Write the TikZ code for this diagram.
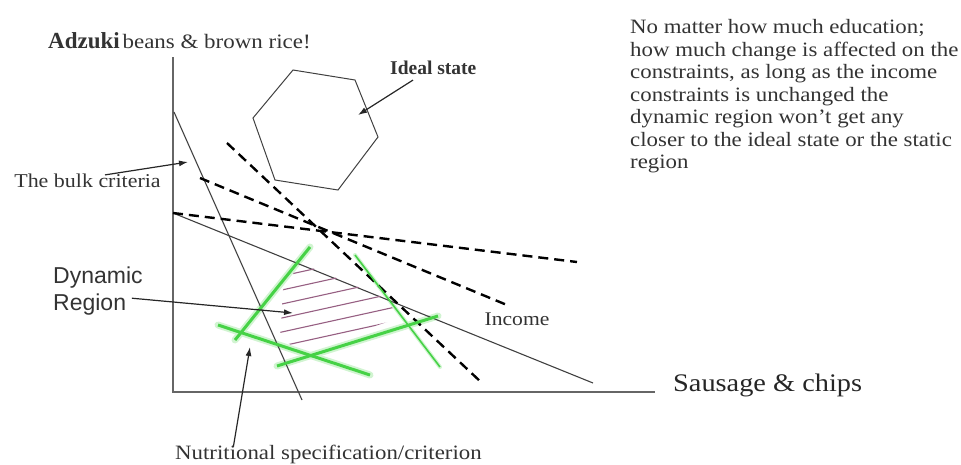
\documentclass[tikz,border=0pt]{standalone}
\usepackage{fontspec}
\setmainfont{Liberation Serif}[FakeStretch=1.12]
\newfontfamily\plainserif{Liberation Serif}
\newfontfamily\labelsans{Liberation Sans}
\usepackage{xcolor}
\usepackage{tikz}
\usetikzlibrary{arrows.meta, calc}

\definecolor{nutgreen}{RGB}{70,210,70}
\definecolor{hatchpink}{RGB}{150,95,130}

\begin{document}
\begin{tikzpicture}[x=1pt, y=-1pt,
  axis/.style={line width=2pt, black!60},
  limit/.style={line width=1.1pt, black!75},
  budget/.style={line width=2.4pt, black, dash pattern=on 10pt off 6pt},
  nutri/.style={line width=3pt, nutgreen},
  glow/.style={line width=7pt, nutgreen!25, line cap=round},
  pointer/.style={line width=1.2pt, black!85, -{Latex[length=9pt,width=6pt]}},
  txt/.style={inner sep=0pt, text=black!80}]
  \useasboundingbox (0,0) rectangle (961,464);

  % Axes
  \draw[axis] (173,57) -- (173,392) -- (655,392);

  % Ideal state (hexagon)
  \draw[limit, line width=1pt] (293,70) -- (355,80) -- (378,137) -- (338,190) -- (275,180) -- (253,118) -- cycle;

  % Nutritional specifications (soft halo first)
  \draw[glow] (310,247) -- (235,340);
  \draw[glow] (218,325) -- (370,375);
  \draw[glow] (277,366) -- (438,316);
  \draw[glow, line width=4pt] (355,255) -- (440,367);

  % Bulk criteria and income constraint
  \coordinate (B1) at (174,112);
  \coordinate (B2) at (302,400);
  \coordinate (I1) at (173,213);
  \coordinate (I2) at (593,383);
  \draw[limit] (B1) -- (B2);
  \draw[limit] (I1) -- (I2);

  % Shifted constraints
  \draw[budget] (227,143) -- (482,383);
  \draw[budget] (200,178) -- (507,305);
  \draw[budget] (I1) -- (577,262);

  % Dynamic region (hatched)
  \begin{scope}
    \clip (300,263) -- (380,296) -- (402,317) -- (303,350) -- (280,340) -- (283,290) -- cycle;
    \foreach \y in {272,286,...,356}
      \draw[hatchpink, line width=1.1pt] (270,\y+6.6) -- (420,\y-26.4);
  \end{scope}

  % Nutritional specifications
  \draw[nutri] (310,247) -- (235,340);
  \draw[nutri] (218,325) -- (370,375);
  \draw[nutri] (277,366) -- (438,316);
  \draw[nutri, line width=1.6pt] (355,255) -- (440,367);

  % Note (serif)
  \node[txt, anchor=north west, font=\rmfamily\fontsize{20.4}{22.5}\selectfont] (note) at (630,18)
    {\begin{tabular}{@{}l@{}}No matter how much education;\\how much change is affected on the\\constraints, as long as the income\\constraints is unchanged the\\dynamic region won’t get any\\closer to the ideal state or the static\\region\end{tabular}};

  % Labels
  \node[txt, anchor=base west] (yaxis) at (48,48)
    {{\plainserif\bfseries\fontsize{23}{23}\selectfont Adzuki} {\fontsize{20.5}{21}\selectfont beans \& brown rice!}};
  \node[txt, anchor=west, font=\plainserif\bfseries\fontsize{19.5}{20}\selectfont] (ideal) at (390,68) {Ideal state};
  \node[txt, font=\rmfamily\fontsize{19.6}{20}\selectfont] (bulk) at (87.5,181) {The bulk criteria};
  \node[txt, font=\rmfamily\fontsize{19.3}{20}\selectfont] (income) at (517,319) {Income};
  \node[txt, anchor=west, text=black!85, font=\rmfamily\fontsize{25.3}{26}\selectfont] (xaxis) at (673,385) {Sausage \& chips};
  \node[txt, anchor=west, font=\rmfamily\fontsize{20.4}{21}\selectfont] (spec) at (175,454) {Nutritional specification/criterion};
  \node[txt, anchor=north west, font=\labelsans\fontsize{23}{27}\selectfont] (dyn) at (53,264)
    {\begin{tabular}{@{}l@{}}Dynamic\\Region\end{tabular}};

  % Pointers
  \coordinate (idealtip) at (358,115);
  \coordinate (bulktip) at (188,162);
  \coordinate (dyntip) at (293,313);
  \coordinate (spectip) at (250,347);
  \draw[pointer] ($(ideal.south west)+(23,5)$) -- (idealtip);
  \draw[pointer] ([xshift=17.5pt,yshift=-1pt]bulk.north) -- (bulktip);
  \draw[pointer] ([xshift=-11pt,yshift=-7pt]dyn.east) -- (dyntip);
  \draw[pointer] ([xshift=-95pt,yshift=-2pt]spec.north) -- (spectip);
\end{tikzpicture}
\end{document}
